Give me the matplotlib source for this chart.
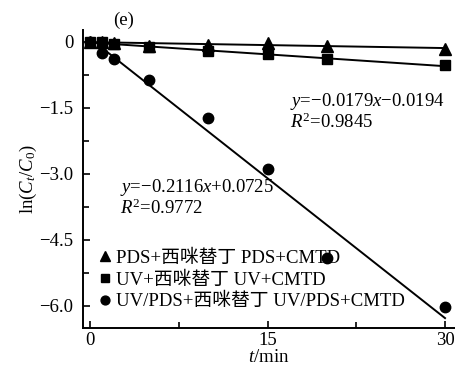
import matplotlib.pyplot as plt
import numpy as np

plt.rcParams['font.family'] = ['Liberation Serif', 'Noto Sans CJK SC']
plt.rcParams['mathtext.fontset'] = 'custom'
plt.rcParams['mathtext.rm'] = 'Liberation Serif'
plt.rcParams['mathtext.it'] = 'Liberation Serif:italic'

FS = 13.5

# data
t_pds = [0, 1, 2, 5, 10, 15, 20, 30]
y_pds = [0, -0.01, -0.03, -0.10, -0.07, -0.03, -0.10, -0.17]
t_uv = [0, 1, 2, 5, 10, 15, 20, 30]
y_uv = [0, 0.0, -0.05, -0.13, -0.22, -0.29, -0.39, -0.54]
t_uvpds = [0, 1, 2, 5, 10, 15, 20, 30]
y_uvpds = [0, -0.25, -0.39, -0.86, -1.73, -2.89, -4.91, -6.02]

# fitted lines (slope, intercept, x range)
fit_pds = (-0.0045, -0.01, 0, 30)
fit_uv = (-0.0179, -0.0194, 0, 30)
fit_uvpds = (-0.2116, 0.0725, 1, 30)

labels = ["PDS+西咪替丁 PDS+CMTD", "UV+西咪替丁 UV+CMTD", "UV/PDS+西咪替丁 UV/PDS+CMTD"]

fig = plt.figure(figsize=(4.56, 3.70), dpi=100)
ax = fig.add_axes([0.182, 0.1135, 0.816, 0.806])

for slope, icpt, x0, x1 in (fit_pds, fit_uv, fit_uvpds):
    xs = np.array([x0, x1])
    ax.plot(xs, slope * xs + icpt, color="black", lw=1.4, zorder=2)

h1, = ax.plot(t_pds, y_pds, "^", color="black", ms=8, ls="none", zorder=3)
h2, = ax.plot(t_uv, y_uv, "s", color="black", ms=7, ls="none", zorder=3)
h3, = ax.plot(t_uvpds, y_uvpds, "o", color="black", ms=7.5, ls="none", zorder=3)

ax.set_xlim(-0.6, 30.85)
ax.set_ylim(-6.5, 0.27)
ax.set_xticks([0, 15, 30])
ax.set_xticks([7.5, 22.5], minor=True)
ax.set_yticks([0, -1.5, -3.0, -4.5, -6.0])
ax.set_yticklabels(["0", "\u22121.5", "\u22123.0", "\u22124.5", "\u22126.0"])
ax.set_yticks([-0.75, -2.25, -3.75, -5.25], minor=True)
ax.tick_params(direction="in", labelsize=FS, width=1.2, length=5)
ax.tick_params(which="minor", direction="in", width=1.2, length=4)
ax.tick_params(axis="y", pad=7)
ax.tick_params(axis="x", pad=3)
for s in ("top", "right"):
    ax.spines[s].set_visible(False)
for s in ("left", "bottom"):
    ax.spines[s].set_linewidth(1.4)

ax.set_xlabel("$t$/min", fontsize=FS, labelpad=0)
ax.set_ylabel("ln($C_t$/$C_0$)", fontsize=FS, labelpad=0)

# text positions given in pixels from top-left
def px(x, y):
    return (x / 456, 1 - y / 370)

fig.text(*px(290, 106), "$y$=\u22120.0179$x$\u22120.0194", fontsize=FS, va="baseline")
fig.text(*px(290, 128), "$R^2$=0.9845", fontsize=FS, va="baseline")
fig.text(*px(120, 192), "$y$=\u22120.2116$x$+0.0725", fontsize=FS, va="baseline")
fig.text(*px(120, 214), "$R^2$=0.9772", fontsize=FS, va="baseline")
fig.text(*px(113, 25), "(e)", fontsize=FS, va="baseline")

ax.legend([h1, h2, h3], labels, loc="lower left", bbox_to_anchor=(0.013, 0.035),
          frameon=False, fontsize=FS, handletextpad=0.1, labelspacing=0.23,
          handlelength=1.0, borderaxespad=0, markerscale=0.85)

fig.savefig("out.png", dpi=100)
